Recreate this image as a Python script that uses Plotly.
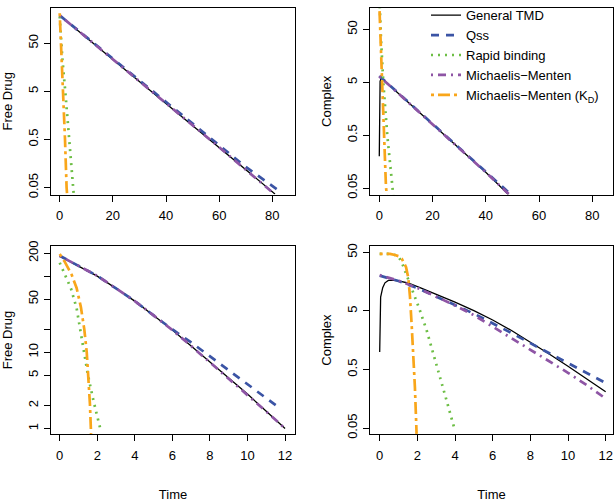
import plotly.graph_objects as go

# ---------------- Data ----------------
series_names = ["General TMD", "Qss", "Rapid binding", "Michaelis−Menten",
                "Michaelis−Menten (K<sub>D</sub>)"]

# Panel 1: Free drug, long time scale
fd1_tmd_t = [0, 10, 20, 30, 40, 50, 60, 70, 81]
fd1_tmd_y = [190, 66.4, 23.2, 8.1, 2.83, 0.99, 0.346, 0.121, 0.037]
fd1_qss_t = [0, 10, 20, 30, 40, 50, 60, 70, 82]
fd1_qss_y = [190, 67, 23.5, 8.3, 2.95, 1.05, 0.38, 0.135, 0.045]
fd1_rb_t = [0, 0.5, 1.0, 2.1, 3.5, 4.9, 5.4]
fd1_rb_y = [180, 50, 24, 5, 0.5, 0.05, 0.03]
fd1_mm_t = [0, 20, 40, 60, 81]
fd1_mm_y = [190, 23.2, 2.83, 0.346, 0.036]
fd1_mmkd_t = [0, 0.5, 1.36, 2.0, 2.6, 2.9]
fd1_mmkd_y = [210, 50, 5, 0.5, 0.05, 0.03]

# Panel 2: Complex, long time scale
cx1_tmd_t = [0, 0.02, 0.1, 0.3, 0.6, 1, 10, 20, 30, 40, 48.5]
cx1_tmd_y = [0.2, 1.5, 4.0, 5.2, 5.8, 5.9, 2.3, 0.81, 0.285, 0.1, 0.038]
cx1_qss_t = [0, 10, 20, 30, 40, 50]
cx1_qss_y = [6.6, 2.33, 0.82, 0.29, 0.102, 0.036]
cx1_rb_t = [0, 0.3, 0.64, 1.5, 3.0, 4.9, 5.4]
cx1_rb_y = [250, 90, 33, 5, 0.5, 0.055, 0.03]
cx1_mm_t = [0, 10, 20, 30, 40, 49]
cx1_mm_y = [6.5, 2.3, 0.81, 0.285, 0.1, 0.037]
cx1_mmkd_t = [0, 0.5, 1.0, 1.77, 2.5, 3.0]
cx1_mmkd_y = [150, 33, 5, 0.5, 0.055, 0.028]

# Panel 3: Free drug, 0-12
fd2_tmd_t = [0, 1, 2, 3, 4, 5, 6, 7, 8, 9, 10, 11, 12]
fd2_tmd_y = [183, 136, 100, 69, 47, 30.5, 19.6, 12.1, 7.45, 4.6, 2.83, 1.68, 1.0]
fd2_qss_t = [0, 1, 2, 3, 4, 5, 6, 7, 8, 9, 10, 11, 11.65]
fd2_qss_y = [185, 137, 101, 69, 47, 30.5, 20, 13.5, 8.9, 5.8, 3.8, 2.5, 1.9]
fd2_rb_t = [0, 0.3, 0.6, 0.9, 1.2, 1.5, 1.8, 2.1, 2.2]
fd2_rb_y = [150, 100, 69, 38, 13.8, 5.1, 2.3, 1.15, 0.91]
fd2_mm_t = [0, 1, 2, 3, 4, 5, 6, 7, 8, 9, 10, 11, 12]
fd2_mm_y = [185, 137, 101, 69, 47, 30.5, 19.6, 12.1, 7.4, 4.55, 2.8, 1.67, 1.0]
fd2_mmkd_t = [0, 0.28, 0.64, 0.9, 1.13, 1.31, 1.44, 1.53, 1.61, 1.67]
fd2_mmkd_y = [195, 153, 104, 70, 39, 20, 10, 4.6, 2.1, 0.85]

# Panel 4: Complex, 0-12
cx2_tmd_t = [0, 0.01, 0.05, 0.16, 0.28, 0.46, 0.63, 1, 1.5, 2.14, 3, 4, 5, 6, 7, 8, 9, 10, 11, 12]
cx2_tmd_y = [1.0, 4.0, 8.6, 12.5, 15.1, 16.6, 16.8, 16.3, 15, 12.5, 9.66, 7.08, 5.07, 3.51,
             2.32, 1.48, 0.92, 0.57, 0.347, 0.209]
cx2_qss_t = [0, 1, 2, 3, 4, 5, 6, 7, 8, 9, 10, 11, 12]
cx2_qss_y = [20, 16.2, 12.3, 8.9, 6.3, 4.5, 3.1, 2.1, 1.41, 0.95, 0.65, 0.44, 0.295]
cx2_rb_t = [0, 0.5, 0.81, 1.0, 1.17, 1.43, 1.79, 2.1, 2.5, 3.0, 3.5, 4.0]
cx2_rb_y = [47, 47, 45, 42, 34, 20.7, 9.8, 5.5, 2.3, 0.65, 0.17, 0.045]
cx2_mm_t = [0, 1, 2, 3, 4, 5, 6, 7, 8, 9, 10, 11, 12]
cx2_mm_y = [20.4, 16.4, 12.4, 8.8, 6.2, 4.24, 2.7, 1.72, 1.1, 0.69, 0.44, 0.27, 0.16]
cx2_mmkd_t = [0, 0.55, 0.81, 1.0, 1.17, 1.3, 1.4, 1.52, 1.61, 1.70, 1.79, 1.87, 1.96]
cx2_mmkd_y = [47, 47, 45, 43, 39, 33, 28, 18.3, 8.6, 2.8, 0.89, 0.25, 0.04]

x_ticks_long = [0, 20, 40, 60, 80]
x_ticks_short = [0, 2, 4, 6, 8, 10, 12]
y_ticks_small = [0.05, 0.5, 5, 50]
y_ticklabels_small = ["0.05", "0.5", "5", "50"]
y_ticks_fd2 = [1, 2, 5, 10, 50, 200]
y_ticklabels_fd2 = ["1", "2", "5", "10", "50", "200"]
y_minor_fd2 = [20, 100]

# ---------------- Styles ----------------
colors = ["black", "#3B54A5", "#6DBE45", "#8E55A5", "#F9A61A"]
dashes = ["solid", "8px,7px", "2px,5px", "2px,5px,8px,5px", "3px,4px,12px,4px"]
widths = [1.3, 2.7, 2.7, 2.7, 2.7]

panels = [
    ("x", "y", [(fd1_tmd_t, fd1_tmd_y), (fd1_qss_t, fd1_qss_y), (fd1_rb_t, fd1_rb_y),
                (fd1_mm_t, fd1_mm_y), (fd1_mmkd_t, fd1_mmkd_y)]),
    ("x2", "y2", [(cx1_tmd_t, cx1_tmd_y), (cx1_qss_t, cx1_qss_y), (cx1_rb_t, cx1_rb_y),
                  (cx1_mm_t, cx1_mm_y), (cx1_mmkd_t, cx1_mmkd_y)]),
    ("x3", "y3", [(fd2_tmd_t, fd2_tmd_y), (fd2_qss_t, fd2_qss_y), (fd2_rb_t, fd2_rb_y),
                  (fd2_mm_t, fd2_mm_y), (fd2_mmkd_t, fd2_mmkd_y)]),
    ("x4", "y4", [(cx2_tmd_t, cx2_tmd_y), (cx2_qss_t, cx2_qss_y), (cx2_rb_t, cx2_rb_y),
                  (cx2_mm_t, cx2_mm_y), (cx2_mmkd_t, cx2_mmkd_y)]),
]

fig = go.Figure()
for pi, (xa, ya, data) in enumerate(panels):
    for si, (tt, yy) in enumerate(data):
        fig.add_trace(go.Scatter(
            x=tt, y=yy, mode="lines", xaxis=xa, yaxis=ya,
            name=series_names[si], legendgroup=series_names[si],
            showlegend=(pi == 0), hoverinfo="skip",
            line=dict(color=colors[si], dash=dashes[si], width=widths[si]),
        ))

FONT = "Liberation Sans, Arial, Helvetica, sans-serif"
W, H = 615, 502
xl = [51 / W, 295 / W]
xr = [370 / W, 613 / W]
yt = [1 - 195 / H, 1 - 1 / H]
yb = [1 - 444 / H, 1 - 248.3 / H]

def xaxis(domain, rng, ticks, anchor, title=None):
    d = dict(domain=domain, range=rng, tickmode="array", tickvals=ticks,
             ticktext=[str(t) for t in ticks], anchor=anchor,
             showline=True, mirror=True, linecolor="black", linewidth=1,
             ticks="outside", ticklen=6, tickwidth=1, tickcolor="black",
             showgrid=False, zeroline=False, ticklabelstandoff=3,
             tickfont=dict(size=13, color="black", family=FONT))
    if title:
        d["title"] = dict(text=title, font=dict(size=13, color="black", family=FONT), standoff=30)
    return d

def yaxis(domain, rng, ticks, labels, anchor, title, minor=None):
    d = dict(domain=domain, type="log", range=rng, tickmode="array", tickvals=ticks,
             ticktext=labels, anchor=anchor, tickangle=-90,
             showline=True, mirror=True, linecolor="black", linewidth=1,
             ticks="outside", ticklen=6, tickwidth=1, tickcolor="black",
             showgrid=False, zeroline=False, ticklabelstandoff=1,
             tickfont=dict(size=13, color="black", family=FONT),
             title=dict(text=title, font=dict(size=13, color="black", family=FONT), standoff=10))
    if minor:
        d["minor"] = dict(tickmode="array", tickvals=minor, ticks="outside", ticklen=6,
                          tickwidth=1, tickcolor="black", showgrid=False)
    return d

fig.update_layout(
    width=W, height=H,
    margin=dict(l=0, r=0, t=0, b=0),
    paper_bgcolor="white", plot_bgcolor="white",
    font=dict(family=FONT, size=13, color="black"),
    hovermode=False,
    xaxis=xaxis(xl, [-3.27, 88.54], x_ticks_long, "y"),
    yaxis=yaxis(yt, [-1.447, 2.433], y_ticks_small, y_ticklabels_small, "x", "Free Drug"),
    xaxis2=xaxis(xr, [-3.49, 87.8], x_ticks_long, "y2"),
    yaxis2=yaxis(yt, [-1.423, 2.104], y_ticks_small, y_ticklabels_small, "x2", "Complex"),
    xaxis3=xaxis(xl, [-0.463, 12.53], x_ticks_short, "y3", "Time"),
    yaxis3=yaxis(yb, [-0.075, 2.397], y_ticks_fd2, y_ticklabels_fd2, "x3", "Free Drug",
                 minor=y_minor_fd2),
    xaxis4=xaxis(xr, [-0.515, 12.39], x_ticks_short, "y4", "Time"),
    yaxis4=yaxis(yb, [-1.404, 1.809], y_ticks_small, y_ticklabels_small, "x4", "Complex"),
    legend=dict(x=426 / W, y=1 + 7 / H, xanchor="left", yanchor="top",
                bgcolor="rgba(0,0,0,0)", borderwidth=0,
                font=dict(size=13, color="black", family=FONT),
                itemwidth=30, tracegroupgap=0),
)

fig.write_html("out.html", config={"displayModeBar": False},
               post_script="document.body.style.margin='0';")
